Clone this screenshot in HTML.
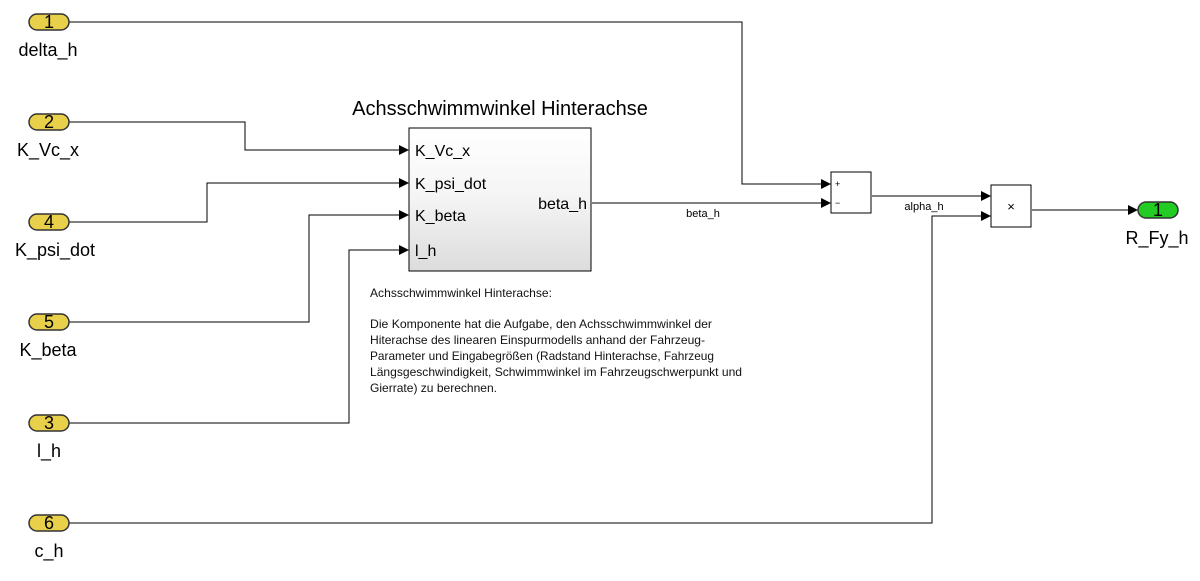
<!DOCTYPE html>
<html><head><meta charset="utf-8"><style>
html,body{margin:0;padding:0;background:#fff;}
svg{display:block;font-family:"Liberation Sans",sans-serif;}
</style></head><body>
<svg width="1200" height="581" viewBox="0 0 1200 581" xmlns="http://www.w3.org/2000/svg">
<defs>
<linearGradient id="g" x1="0" y1="0" x2="0" y2="1"><stop offset="0" stop-color="#ffffff"/><stop offset="0.5" stop-color="#f4f4f4"/><stop offset="1" stop-color="#dcdcdc"/></linearGradient>
<marker id="a" markerWidth="10" markerHeight="10" refX="9" refY="5" orient="auto" markerUnits="userSpaceOnUse"><path d="M0,0 L10,5 L0,10 z" fill="#000"/></marker>
</defs>
<g fill="none" stroke="#000" stroke-width="1">
<polyline points="69,22 742,22 742,184 830,184" marker-end="url(#a)"/>
<polyline points="69,122 245,122 245,150 408,150" marker-end="url(#a)"/>
<polyline points="69,222 207,222 207,183 408,183" marker-end="url(#a)"/>
<polyline points="69,322 309,322 309,215 408,215" marker-end="url(#a)"/>
<polyline points="69,423 349,423 349,250 408,250" marker-end="url(#a)"/>
<polyline points="592,203 830,203" marker-end="url(#a)"/>
<polyline points="872,196 990,196" marker-end="url(#a)"/>
<polyline points="69,523 932,523 932,216 990,216" marker-end="url(#a)"/>
<polyline points="1032,210 1137,210" marker-end="url(#a)"/>
</g>
<g font-size="18" text-anchor="middle" fill="#000">
<g stroke="#333" stroke-width="1.5" fill="#e8d04a">
<rect x="29" y="14" width="40" height="16" rx="8"/>
<rect x="29" y="114" width="40" height="16" rx="8"/>
<rect x="29" y="214" width="40" height="16" rx="8"/>
<rect x="29" y="314" width="40" height="16" rx="8"/>
<rect x="29" y="415" width="40" height="16" rx="8"/>
<rect x="29" y="515" width="40" height="16" rx="8"/>
</g>
<g stroke="#333" stroke-width="1.5" fill="#22cc22"><rect x="1138" y="202" width="40" height="16" rx="8"/></g>
<text x="49" y="28">1</text><text x="49" y="128">2</text><text x="49" y="228">4</text>
<text x="49" y="328">5</text><text x="49" y="429">3</text><text x="49" y="529">6</text>
<text x="1158" y="216">1</text>
<g font-size="18">
<text x="48" y="56">delta_h</text><text x="48" y="156">K_Vc_x</text><text x="55" y="256">K_psi_dot</text>
<text x="48" y="356">K_beta</text><text x="49" y="457">l_h</text><text x="49" y="557">c_h</text>
<text x="1157" y="244">R_Fy_h</text>
</g>
</g>
<rect x="409" y="128" width="182" height="143" fill="url(#g)" stroke="#000" stroke-width="1"/>
<text x="500" y="115" font-size="20" text-anchor="middle">Achsschwimmwinkel Hinterachse</text>
<g font-size="16">
<text x="415" y="156">K_Vc_x</text><text x="415" y="189">K_psi_dot</text>
<text x="415" y="221">K_beta</text><text x="415" y="256">l_h</text>
<text x="587" y="209" text-anchor="end">beta_h</text>
</g>
<text x="703" y="217" font-size="11" text-anchor="middle">beta_h</text>
<text x="924" y="210" font-size="11" text-anchor="middle">alpha_h</text>
<rect x="831" y="172" width="40" height="41" fill="#fff" stroke="#000"/>
<text x="835" y="187" font-size="9">+</text><text x="835" y="206" font-size="9">−</text>
<rect x="991" y="185" width="40" height="42" fill="#fff" stroke="#000"/>
<text x="1011" y="211" font-size="13" text-anchor="middle">×</text>
<g font-size="12" fill="#111">
<text x="370" y="297" textLength="182" lengthAdjust="spacingAndGlyphs">Achsschwimmwinkel Hinterachse:</text>
<text x="370" y="328" textLength="342" lengthAdjust="spacingAndGlyphs">Die Komponente hat die Aufgabe, den Achsschwimmwinkel der</text>
<text x="370" y="344" textLength="335" lengthAdjust="spacingAndGlyphs">Hiterachse des linearen Einspurmodells anhand der Fahrzeug-</text>
<text x="370" y="360" textLength="344" lengthAdjust="spacingAndGlyphs">Parameter und Eingabegrößen (Radstand Hinterachse, Fahrzeug</text>
<text x="370" y="376" textLength="372" lengthAdjust="spacingAndGlyphs">Längsgeschwindigkeit, Schwimmwinkel im Fahrzeugschwerpunkt und</text>
<text x="370" y="392" textLength="127" lengthAdjust="spacingAndGlyphs">Gierrate) zu berechnen.</text>
</g>
</svg>
</body></html>
